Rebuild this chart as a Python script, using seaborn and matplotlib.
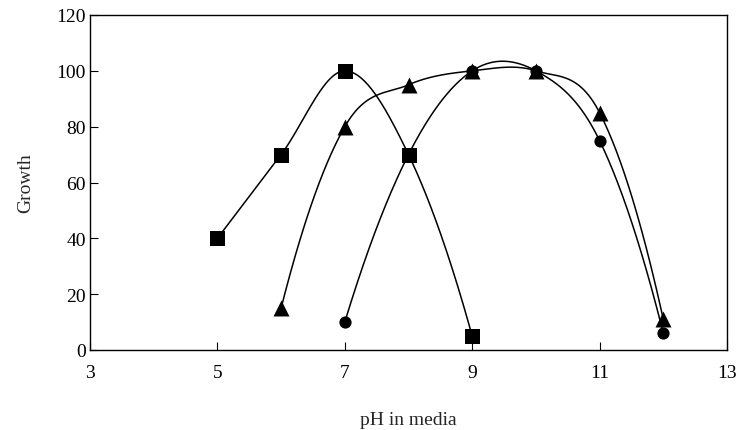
import numpy as np
import pandas as pd
import matplotlib
matplotlib.use("Agg")
import matplotlib.pyplot as plt
import seaborn as sns

# Growth of three cultures across media pH
ph_square = [5, 6, 7, 8, 9]
growth_square = [40, 70, 100, 70, 5]

ph_triangle = [6, 7, 8, 9, 10, 11, 12]
growth_triangle = [15, 80, 95, 100, 100, 85, 11]

ph_circle = [7, 9, 10, 11, 12]
growth_circle = [10, 100, 100, 75, 6]

x_ticks = [3, 5, 7, 9, 11, 13]
y_ticks = [0, 20, 40, 60, 80, 100, 120]


def smooth_curve(x, y, per_unit=80):
    """Piecewise cubic Hermite curve through (x, y) with three-point slopes."""
    x = np.asarray(x, float)
    y = np.asarray(y, float)
    h = np.diff(x)
    d = np.diff(y) / h
    m = np.empty_like(y)
    m[1:-1] = (h[1:] * d[:-1] + h[:-1] * d[1:]) / (h[:-1] + h[1:])
    m[0] = d[0] + (d[0] - d[1]) * h[0] / (h[0] + h[1])
    m[-1] = d[-1] + (d[-1] - d[-2]) * h[-1] / (h[-1] + h[-2])
    xs_all, ys_all = [], []
    for i in range(len(x) - 1):
        n = max(int(h[i] * per_unit), 10)
        t = np.linspace(0, 1, n, endpoint=(i == len(x) - 2))
        h00 = 2 * t ** 3 - 3 * t ** 2 + 1
        h10 = t ** 3 - 2 * t ** 2 + t
        h01 = -2 * t ** 3 + 3 * t ** 2
        h11 = t ** 3 - t ** 2
        xs_all.append(x[i] + t * h[i])
        ys_all.append(h00 * y[i] + h10 * h[i] * m[i]
                      + h01 * y[i + 1] + h11 * h[i] * m[i + 1])
    return np.concatenate(xs_all), np.concatenate(ys_all)


sns.set_theme(style="ticks")
plt.rcParams["font.family"] = ["Liberation Serif", "DejaVu Serif"]

fig = plt.figure(figsize=(7.36, 4.31), dpi=100)
ax = fig.add_axes([90 / 736, 1 - 351 / 431, (727 - 90) / 736, (351 - 16) / 431])

series = [
    ("square", ph_square, growth_square, "s", 10.8),
    ("triangle", ph_triangle, growth_triangle, "^", 11.5),
    ("circle", ph_circle, growth_circle, "o", 8.8),
]

for name, xs, ys, marker, size in series:
    cx, cy = smooth_curve(xs, ys)
    curve = pd.DataFrame({"pH": cx, "Growth": cy})
    sns.lineplot(data=curve, x="pH", y="Growth", ax=ax, color="black",
                 linewidth=1.1, sort=False, estimator=None)
    pts = pd.DataFrame({"pH": xs, "Growth": ys})
    sns.scatterplot(data=pts, x="pH", y="Growth", ax=ax, marker=marker,
                    s=size ** 2, color="black", edgecolor="black",
                    linewidth=0, zorder=5)

ax.set_xlim(3, 13)
ax.set_ylim(0, 120)
ax.set_xticks(x_ticks)
ax.set_yticks(y_ticks)
ax.tick_params(direction="in", length=6, width=0.8, colors="black",
               labelsize=14)
ax.tick_params(axis="x", pad=10)
ax.tick_params(axis="y", pad=3)
for side in ["left", "right", "top", "bottom"]:
    ax.spines[side].set_visible(True)
    ax.spines[side].set_color("black")
    ax.spines[side].set_linewidth(1.0)

ax.set_xlabel("pH in media", fontsize=14, labelpad=22)
ax.set_ylabel("Growth", fontsize=14, labelpad=16)

fig.savefig("out.png", dpi=100)
